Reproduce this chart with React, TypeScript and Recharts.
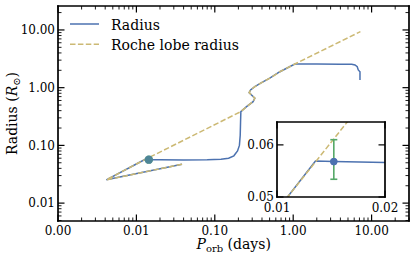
import React from 'react';
import { ComposedChart, Line, Scatter, ErrorBar, XAxis, YAxis, CartesianGrid } from 'recharts';

const BLUE = '#4c72b0';
const SAND = '#ccb974';
const GREEN = '#55a868';
const FONT = '"DejaVu Serif", serif';

// model track: orbital period (days) vs radius (R_sun)
const trackPeriod = [0.0382, 0.00414, 0.0107, 0.0128, 0.0144, 0.02, 0.04, 0.08, 0.12, 0.15, 0.175, 0.195, 0.206, 0.211, 0.213, 0.215, 0.254, 0.308, 0.324, 0.294, 0.274, 0.286, 0.324, 0.395, 0.503, 0.676, 1.05, 2, 4, 5.57, 6.14, 6.56, 6.76, 7.11, 7.11];
const trackRadius = [0.0472, 0.0253, 0.05, 0.0567, 0.0566, 0.0564, 0.056, 0.0562, 0.0575, 0.06, 0.066, 0.08, 0.1, 0.15, 0.25, 0.385, 0.469, 0.573, 0.656, 0.748, 0.82, 0.912, 1.04, 1.22, 1.46, 1.89, 2.57, 2.56, 2.55, 2.55, 2.47, 2.31, 2.03, 1.89, 1.36];

// Roche lobe radius along the same track
const rochePeriod = [0.0382, 0.00414, 0.0107, 0.0157, 0.215, 0.254, 0.308, 0.324, 0.294, 0.274, 0.286, 0.324, 0.395, 0.503, 0.676, 1.05, 7.2];
const rocheRadius = [0.0472, 0.0253, 0.05, 0.065, 0.385, 0.469, 0.573, 0.656, 0.748, 0.82, 0.912, 1.04, 1.22, 1.46, 1.89, 2.57, 9.34];

// observed system with asymmetric radius error
const obsPeriod = [0.0144];
const obsRadius = [0.0566];
const obsErrLow = [0.0034];
const obsErrHigh = [0.0045];

const decades = [0.001, 0.01, 0.1, 1, 10];
const minorSteps = [2, 3, 4, 5, 6, 7, 8, 9];
const insetXTicks = [0.01, 0.02];
const insetYTicks = [0.05, 0.06];

const track = trackPeriod.map((p, i) => ({ p, r: trackRadius[i] }));
const roche = rochePeriod.map((p, i) => ({ p, r: rocheRadius[i] }));
const observed = obsPeriod.map((p, i) => ({ p, r: obsRadius[i], err: [obsErrLow[i], obsErrHigh[i]] }));

const logTicks = (lo: number, hi: number) =>
  decades
    .flatMap((d) => [d, ...minorSteps.map((m) => +(m * d).toPrecision(3))])
    .filter((v) => v >= lo * 0.999 && v <= hi * 1.001);

const isDecade = (v: number) => Math.abs(Math.log10(v) - Math.round(Math.log10(v))) < 1e-6;
const always = () => true;

const DIR: Record<string, [number, number]> = { bottom: [0, -1], top: [0, 1], left: [1, 0], right: [-1, 0] };

function tickFor(side: string, labelled: boolean, major: (v: number) => boolean, labelGap = 14) {
  return (props: any) => {
    const { x, y, payload } = props;
    const v = payload.value;
    const big = major(v);
    const len = big ? 6.5 : 3.5;
    const [dx, dy] = DIR[side];
    return (
      <g>
        <line x1={x} y1={y} x2={x + dx * len} y2={y + dy * len} stroke="#000" strokeWidth={big ? 1.2 : 0.9} />
        {labelled && big && side === 'bottom' && (
          <text x={x} y={y + labelGap} textAnchor="middle" fontSize={12} fontFamily={FONT} fill="#000">
            {v.toFixed(2)}
          </text>
        )}
        {labelled && big && side === 'left' && (
          <text x={x - 3} y={y + 4.3} textAnchor="end" fontSize={12} fontFamily={FONT} fill="#000">
            {v.toFixed(2)}
          </text>
        )}
      </g>
    );
  };
}

const axisLine = { stroke: '#000', strokeWidth: 1.7, strokeLinecap: 'square' as const };

const xDomain = [0.001, 30];
const yDomain = [0.0049, 26];
const insetX = [0.01, 0.02];
const insetY = [0.05, 0.065];

function Marker(r: number, fill: string, opacity = 1) {
  return (props: any) => <circle cx={props.cx} cy={props.cy} r={r} fill={fill} fillOpacity={opacity} />;
}

const flatX = { type: 'number' as const, dataKey: 'p', scale: 'log' as const, allowDataOverflow: true, interval: 0, height: 1, tickSize: 0, tickMargin: 0, tickLine: false, axisLine };
const flatY = { type: 'number' as const, scale: 'log' as const, allowDataOverflow: true, interval: 0, width: 1, tickSize: 0, tickMargin: 0, tickLine: false, axisLine };

export default function App() {
  const xTicks = logTicks(xDomain[0], xDomain[1]);
  const yTicks = logTicks(yDomain[0], yDomain[1]);
  return (
    <div style={{ position: 'absolute', left: 0, top: 0, width: 415, height: 260, background: '#fff' }}>
      <ComposedChart width={415} height={260} margin={{ top: 5, right: 5, bottom: 38, left: 57 }}>
        <XAxis {...flatX} domain={xDomain} ticks={xTicks} tick={tickFor('bottom', true, isDecade)} />
        <XAxis {...flatX} xAxisId="t" orientation="top" domain={xDomain} ticks={xTicks} tick={tickFor('top', false, isDecade)} />
        <YAxis {...flatY} domain={yDomain} ticks={yTicks} tick={tickFor('left', true, isDecade)} />
        <YAxis {...flatY} yAxisId="r" orientation="right" domain={yDomain} ticks={yTicks} tick={tickFor('right', false, isDecade)} />
        <Line data={track} dataKey="r" type="linear" stroke={BLUE} strokeWidth={1.5} dot={false} isAnimationActive={false} />
        <Line data={roche} dataKey="r" type="linear" stroke={SAND} strokeWidth={1.5} strokeDasharray="5.5 2.4" dot={false} isAnimationActive={false} />
        <Scatter data={observed} dataKey="r" shape={Marker(4.2, GREEN)} isAnimationActive={false} />
        <Scatter data={observed} dataKey="r" shape={Marker(4.2, BLUE, 0.65)} isAnimationActive={false} />
      </ComposedChart>

      <div style={{ position: 'absolute', left: 247, top: 112 }}>
        <ComposedChart width={161} height={105} margin={{ top: 9, right: 22, bottom: 19, left: 29 }}>
          <CartesianGrid fill="#fff" horizontal={false} vertical={false} />
          <XAxis {...flatX} domain={insetX} ticks={insetXTicks} tick={tickFor('bottom', true, always, 14.5)} />
          <XAxis {...flatX} xAxisId="t" orientation="top" domain={insetX} ticks={insetXTicks} tick={tickFor('top', false, always)} />
          <YAxis {...flatY} domain={insetY} ticks={insetYTicks} tick={tickFor('left', true, always)} />
          <YAxis {...flatY} yAxisId="r" orientation="right" domain={insetY} ticks={insetYTicks} tick={tickFor('right', false, always)} />
          <Line data={track} dataKey="r" type="linear" stroke={BLUE} strokeWidth={1.5} dot={false} isAnimationActive={false} />
          <Line data={roche} dataKey="r" type="linear" stroke={SAND} strokeWidth={1.5} strokeDasharray="5.5 2.4" dot={false} isAnimationActive={false} />
          <Scatter data={observed} dataKey="r" shape={Marker(3.6, BLUE)} isAnimationActive={false}>
            <ErrorBar dataKey="err" direction="y" width={3.5} stroke={GREEN} strokeWidth={1.6} />
          </Scatter>
          <Scatter data={observed} dataKey="r" shape={Marker(3.6, BLUE)} isAnimationActive={false} />
        </ComposedChart>
      </div>

      <svg width={415} height={260} style={{ position: 'absolute', left: 0, top: 0, pointerEvents: 'none' }} fontFamily={FONT}>
        <line x1={70} y1={24} x2={99} y2={24} stroke={BLUE} strokeWidth={1.5} />
        <text x={111} y={29.5} fontSize={14} fill="#000">Radius</text>
        <line x1={70} y1={44.3} x2={99} y2={44.3} stroke={SAND} strokeWidth={1.5} strokeDasharray="5.5 2.4" />
        <text x={111} y={49.5} fontSize={14} fill="#000">Roche lobe radius</text>
        <text x={233.7} y={249} fontSize={14} textAnchor="middle" fill="#000">
          <tspan fontStyle="italic">P</tspan>
          <tspan fontSize={10} dy={3}>orb</tspan>
          <tspan dy={-3}> (days)</tspan>
        </text>
        <text transform="translate(17,113.5) rotate(-90)" fontSize={14} textAnchor="middle" fill="#000">
          Radius (<tspan fontStyle="italic">R</tspan>
          <tspan fontSize={10} dy={3}>⊙</tspan>
          <tspan dy={-3}>)</tspan>
        </text>
      </svg>
    </div>
  );
}
